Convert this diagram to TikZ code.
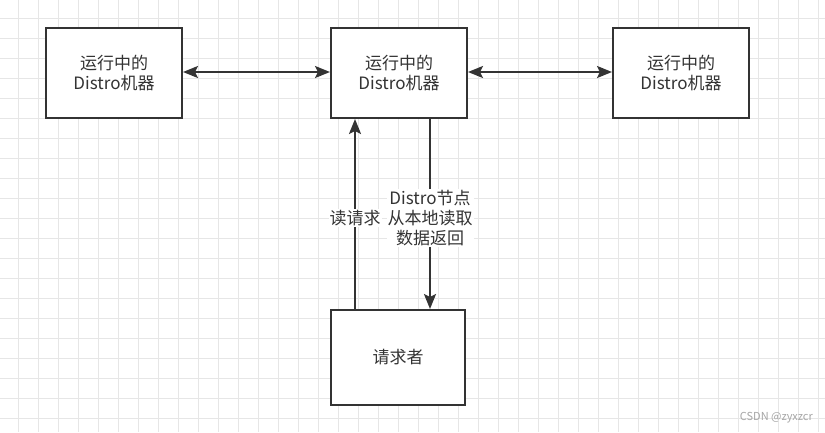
\documentclass[tikz,border=0pt]{standalone}
\usepackage{fontspec}
\setmainfont{Noto Sans CJK SC}
\usetikzlibrary{arrows.meta}
\definecolor{ink}{HTML}{333333}
\definecolor{gridc}{HTML}{E6E6E6}
\tikzset{
  box/.style={draw=ink, line width=2pt, fill=white, minimum width=136pt, minimum height=90pt, align=center, text=ink, font=\fontsize{17}{20.5}\selectfont, inner sep=0pt},
  arr/.style={draw=ink, line width=2.2pt, -{Stealth[length=15pt,width=12pt,inset=3pt]}},
  darr/.style={draw=ink, line width=2.2pt, {Stealth[length=15pt,width=12pt,inset=3pt]}-{Stealth[length=15pt,width=12pt,inset=3pt]}},
  lbl/.style={fill=white, text=ink, align=center, font=\fontsize{17}{20}\selectfont, inner sep=1pt}
}
\begin{document}
\begin{tikzpicture}[x=1pt,y=-1pt]
\useasboundingbox (0,0) rectangle (825,432);
\fill[white] (0,0) rectangle (825,432);
\foreach \i in {18,38,...,818} \draw[gridc, line width=0.8pt] (\i,0) -- (\i,432);
\foreach \j in {18,38,...,418} \draw[gridc, line width=0.8pt] (0,\j) -- (825,\j);
\node[box] (left) at (114,73) {运行中的\\Distro机器};
\node[box] (mid) at (399,73) {运行中的\\Distro机器};
\node[box] (right) at (681,73) {运行中的\\Distro机器};
\node[box, minimum width=134pt, minimum height=95pt] (req) at (398,357.5) {请求者};
\draw[darr] (left.east |- 0,72) -- (mid.west |- 0,72);
\draw[darr] (mid.east |- 0,72) -- (right.west |- 0,72);
\draw[arr] ([xshift=-43pt]req.north) -- node[lbl, pos=0.48] (l1) {读请求} ([xshift=-44pt]mid.south);
\draw[arr] ([xshift=31pt]mid.south) -- node[lbl, pos=0.52] (l2) {Distro节点\\从本地读取\\数据返回} ([xshift=32pt]req.north);
\node[text=gray!70, font=\fontsize{11}{12}\selectfont, anchor=east, inner sep=0pt] (wm) at (813,418) {CSDN @zyxzcr};
\end{tikzpicture}
\end{document}
